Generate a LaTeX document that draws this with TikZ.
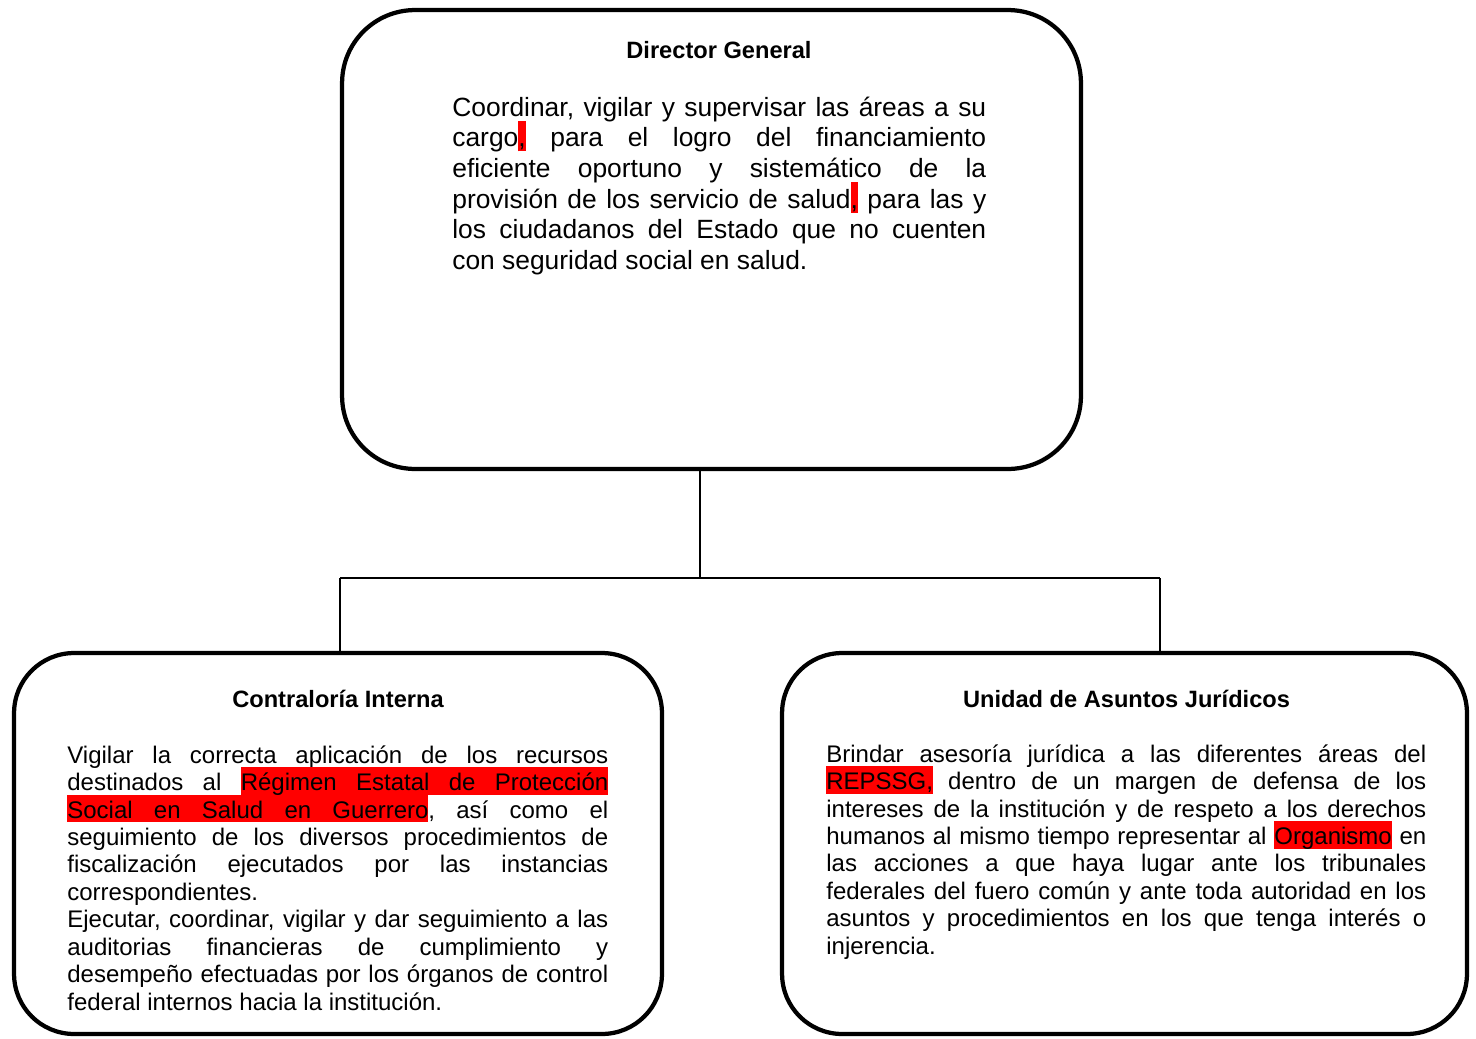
\documentclass[tikz,border=0pt]{standalone}
\usepackage{fontspec}
\setmainfont{Liberation Sans}
\definecolor{hlred}{RGB}{255,0,0}
% red marking of words and of the spaces between them
\newcommand{\hlword}[1]{\setbox0=\hbox{#1}\rlap{\textcolor{hlred}{\vrule width \wd0 height 0.97em depth 0.18em}}\box0\relax}
\newcommand{\hlspace}{\textcolor{hlred}{\leaders\hrule height 0.97em depth 0.18em\hskip\fontdimen2\font plus\fontdimen3\font minus\fontdimen4\font}}

\begin{document}
\begin{tikzpicture}[x=0.02cm, y=-0.02cm,
  orgbox/.style={draw, line width=0.085cm, rectangle},
  boxtitle/.style={font=\bfseries\fontsize{13.45pt}{15.5pt}\selectfont, anchor=base, inner sep=0pt},
  boxtext/.style={anchor=base west, inner sep=0pt, align=justify,
    execute at begin node={\lineskiplimit=-100pt\frenchspacing}},
  link/.style={line width=0.04cm}]
\useasboundingbox (0,0) rectangle (1476,1038);
\node [orgbox, rounded corners=1.46cm, minimum width=14.78cm, minimum height=9.18cm] (director) at (711.5,239.5) {};
\node [orgbox, rounded corners=1.2cm, minimum width=12.96cm, minimum height=7.62cm] (contraloria) at (338,843.5) {};
\node [orgbox, rounded corners=1.2cm, minimum width=13.7cm, minimum height=7.62cm] (juridicos) at (1124.5,843.5) {};
\node [boxtitle] (directorT) at (719,58) {Director General};
\node [boxtitle] (contraloriaT) at (338,707) {Contraloría Interna};
\node [boxtitle] (juridicosT) at (1126.5,707) {Unidad de Asuntos Jurídicos};
\node [boxtext, text width=10.68cm, font=\fontsize{15.02pt}{17.46pt}\selectfont] (directorX) at (452,116) {Coordinar, vigilar y supervisar las áreas a su\linebreak cargo\hlword{,} para el logro del financiamiento\linebreak eficiente oportuno y sistemático de la\linebreak provisión de los servicio de salud\hlword{,} para las y\linebreak los ciudadanos del Estado que no cuenten\linebreak con seguridad social en salud.};
\node [boxtext, text width=10.82cm, font=\fontsize{13.66pt}{15.65pt}\selectfont] (contraloriaX) at (67,763) {Vigilar la correcta aplicación de los recursos\linebreak destinados al \hlword{Régimen}\hlspace\hlword{Estatal}\hlspace\hlword{de}\hlspace\hlword{Protección}\linebreak \hlword{Social}\hlspace\hlword{en}\hlspace\hlword{Salud}\hlspace\hlword{en}\hlspace\hlword{Guerrero}, así como el\linebreak seguimiento de los diversos procedimientos de\linebreak fiscalización ejecutados por las instancias\linebreak correspondientes.\par Ejecutar, coordinar, vigilar y dar seguimiento a las\linebreak auditorias financieras de cumplimiento y\linebreak desempeño efectuadas por los órganos de control\linebreak federal internos hacia la institución.};
\node [boxtext, text width=12cm, font=\fontsize{13.66pt}{15.65pt}\selectfont] (juridicosX) at (826,762) {Brindar asesoría jurídica a las diferentes áreas del\linebreak \hlword{REPSSG,} dentro de un margen de defensa de los\linebreak intereses de la institución y de respeto a los derechos\linebreak humanos al mismo tiempo representar al \hlword{Organismo} en\linebreak las acciones a que haya lugar ante los tribunales\linebreak federales del fuero común y ante toda autoridad en los\linebreak asuntos y procedimientos en los que tenga interés o\linebreak injerencia.};
\coordinate (j) at (700,578);
\coordinate (jl) at (340,578);
\coordinate (jr) at (1160,578);
\draw [link] (director.south -| j) -- (j);
\draw [link] (jl) -- (jr);
\draw [link] (jl) -- (contraloria.north -| jl);
\draw [link] (jr) -- (juridicos.north -| jr);
\end{tikzpicture}
\end{document}
